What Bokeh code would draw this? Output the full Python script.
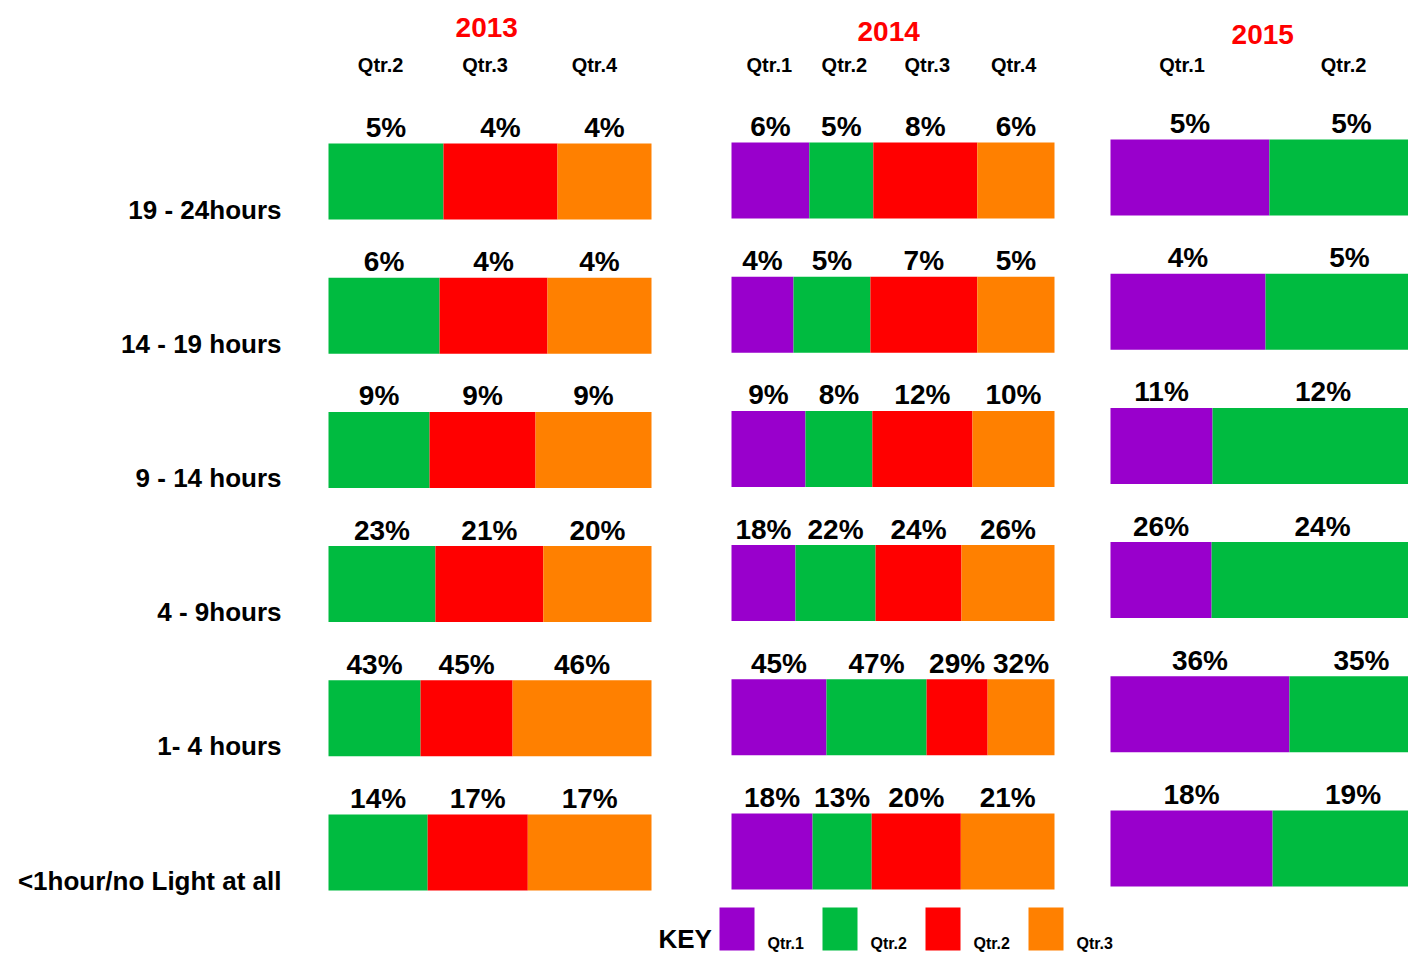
from bokeh.plotting import figure
from bokeh.models import Range1d, ColumnDataSource
from bokeh.core.properties import value
from bokeh.embed import file_html
from bokeh.resources import INLINE

# ---------------- data ----------------
rows = ["19 - 24hours", "14 - 19 hours", "9 - 14 hours", "4 - 9hours",
        "1- 4 hours", "<1hour/no Light at all"]
years = ["2013", "2014", "2015"]

quarters_2013 = ["Qtr.2", "Qtr.3", "Qtr.4"]
pct_2013_q2 = [5, 6, 9, 23, 43, 14]
pct_2013_q3 = [4, 4, 9, 21, 45, 17]
pct_2013_q4 = [4, 4, 9, 20, 46, 17]
# visible length of each segment, percent of the bar
share_2013_q2 = [35.6, 34.4, 31.3, 33.1, 28.5, 30.7]
share_2013_q3 = [35.3, 33.4, 32.8, 33.4, 28.5, 31.0]
share_2013_q4 = [29.1, 32.2, 35.9, 33.5, 43.0, 38.3]

quarters_2014 = ["Qtr.1", "Qtr.2", "Qtr.3", "Qtr.4"]
pct_2014_q1 = [6, 4, 9, 18, 45, 18]
pct_2014_q2 = [5, 5, 8, 22, 47, 13]
pct_2014_q3 = [8, 7, 12, 24, 29, 20]
pct_2014_q4 = [6, 5, 10, 26, 32, 21]
share_2014_q1 = [24.1, 19.2, 22.9, 19.8, 29.4, 25.1]
share_2014_q2 = [19.8, 23.8, 20.7, 24.8, 31.0, 18.3]
share_2014_q3 = [32.2, 33.1, 31.0, 26.6, 18.9, 27.6]
share_2014_q4 = [23.9, 23.9, 25.4, 28.8, 20.7, 29.0]

quarters_2015 = ["Qtr.1", "Qtr.2"]
pct_2015_q1 = [5, 4, 11, 26, 36, 18]
pct_2015_q2 = [5, 5, 12, 24, 35, 19]
share_2015_q1 = [49.2, 48.0, 31.6, 31.3, 55.4, 50.2]
share_2015_q2 = [50.8, 52.0, 68.4, 68.7, 44.6, 49.8]

key_labels = ["Qtr.1", "Qtr.2", "Qtr.2", "Qtr.3"]
key_colors = ["#9900CC", "#00BB40", "#FF0000", "#FF8000"]

colors = {"Qtr.1": "#9900CC", "Qtr.2": "#00BB40",
          "Qtr.3": "#FF0000", "Qtr.4": "#FF8000"}

# ---------------- layout ----------------
W, H = 1408, 956
FONT = value("Liberation Sans")
PW = 323            # bar length in px
BH = 76             # bar height
STEP = 134.2        # row spacing

panels = [
    dict(year="2013", x0=328, c0=181, quarters=quarters_2013,
         pct=[pct_2013_q2, pct_2013_q3, pct_2013_q4],
         share=[share_2013_q2, share_2013_q3, share_2013_q4], ty=27),
    dict(year="2014", x0=731, c0=180, quarters=quarters_2014,
         pct=[pct_2014_q1, pct_2014_q2, pct_2014_q3, pct_2014_q4],
         share=[share_2014_q1, share_2014_q2, share_2014_q3, share_2014_q4], ty=31),
    dict(year="2015", x0=1110, c0=177, quarters=quarters_2015,
         pct=[pct_2015_q1, pct_2015_q2],
         share=[share_2015_q1, share_2015_q2], ty=34),
]

p = figure(width=W, height=H, x_range=Range1d(0, W), y_range=Range1d(H, 0),
           output_backend="svg", toolbar_location=None, min_border=0,
           x_axis_type=None, y_axis_type=None)
p.grid.visible = False
p.outline_line_color = None
p.background_fill_color = "white"
p.border_fill_color = "white"

# row labels
row_centers = [181 + i * STEP for i in range(len(rows))]
p.text(x=[281] * len(rows), y=[c + 28 for c in row_centers], text=rows,
       text_align="right", text_baseline="middle", text_font=FONT,
       text_font_style="bold", text_font_size="26px", text_color="black")

for pan in panels:
    n = len(rows)
    centers = [pan["c0"] + i * STEP for i in range(n)]
    cum = [0.0] * n
    header_x = []
    for q, vals, shares in zip(pan["quarters"], pan["pct"], pan["share"]):
        left = [pan["x0"] + c / 100 * PW for c in cum]
        right = [pan["x0"] + (c + s) / 100 * PW for c, s in zip(cum, shares)]
        cum = [c + s for c, s in zip(cum, shares)]
        src = ColumnDataSource(dict(
            left=left, right=right,
            top=[c - BH / 2 for c in centers],
            bottom=[c + BH / 2 for c in centers],
            mid=[(l + r) / 2 for l, r in zip(left, right)],
            ly=[c - BH / 2 - 16 for c in centers],
            lab=[f"{v}%" for v in vals]))
        p.quad(left="left", right="right", top="top", bottom="bottom",
               source=src, fill_color=colors[q], line_color=None)
        p.text(x="mid", y="ly", text="lab", source=src, text_align="center",
               text_baseline="middle", text_font=FONT,
               text_font_style="bold", text_font_size="28px",
               text_color="black")
        # quarter header above the column
        mids = src.data["mid"]
        hx = sum(mids) / len(mids)
        header_x.append(hx)
        p.text(x=[hx], y=[64], text=[q], text_align="center",
               text_baseline="middle", text_font=FONT, text_font_style="bold",
               text_font_size="20px", text_color="black")
    # year title, centred over the quarter headers
    p.text(x=[sum(header_x) / len(header_x)], y=[pan["ty"]], text=[pan["year"]],
           text_align="center", text_baseline="middle", text_font=FONT,
           text_font_style="bold", text_font_size="28px", text_color="#FF0000")

# key
KY_TOP, KY_BOT = 907, 950
p.text(x=[658], y=[KY_BOT - 12], text=["KEY"], text_align="left",
       text_baseline="middle", text_font=FONT, text_font_style="bold",
       text_font_size="26px", text_color="black")
kx = [719 + i * 103 for i in range(len(key_labels))]
p.quad(left=kx, right=[x + 35 for x in kx], top=[KY_TOP] * len(kx),
       bottom=[KY_BOT] * len(kx), fill_color=key_colors, line_color=None)
p.text(x=[x + 48 for x in kx], y=[KY_BOT - 7] * len(kx), text=key_labels,
       text_align="left", text_baseline="middle", text_font=FONT,
       text_font_style="bold", text_font_size="16px", text_color="black")

open("out.html", "w").write(file_html(p, INLINE))
